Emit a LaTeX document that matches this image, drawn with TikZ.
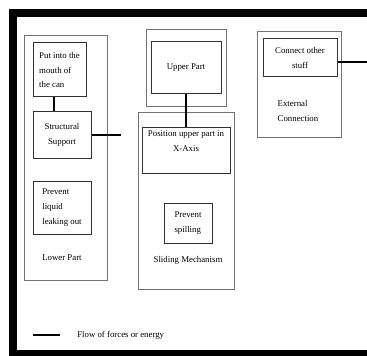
\documentclass[tikz,border=0pt]{standalone}
\usepackage{fontspec}
\setmainfont{Liberation Serif}
\usepackage{tikz}
\usetikzlibrary{calc,positioning}
\tikzset{
  partbox/.style={rectangle, draw=black!55, line width=0.75pt, inner sep=0pt},
  funcbox/.style={rectangle, draw=black!80, line width=0.75pt, inner sep=0pt},
  txt/.style={inner sep=0pt, font={\fontsize{6.6}{11.2}\selectfont}},
  flow/.style={draw, line width=1.5pt},
  frame/.style={draw=black, line width=6pt}
}

\begin{document}
\begin{tikzpicture}[x=0.75pt,y=-0.75pt]
    \clip (0,0) rectangle (367,356);
    \draw[frame] (13,13.5) rectangle (385,354);

    % lower part
    \node[partbox, minimum width=62.25pt, minimum height=183pt] (lower) at (65.5,158) {};
    \node[funcbox, txt, minimum width=39.75pt, minimum height=40.5pt, align=left] (mouth) at (59.5,70) {Put into the\\mouth of\\the can};
    \node[funcbox, txt, minimum width=43.5pt, minimum height=34.5pt, align=center] (strut) at (62,135) {Structural\\Support};
    \node[funcbox, txt, minimum width=43.5pt, minimum height=39.75pt, align=left] (leak) at (62,207.5) {Prevent\\liquid\\leaking out};
    \node[txt] (lowerlbl) at (62,258) {Lower Part};

    % upper part
    \node[partbox, minimum width=60pt, minimum height=57.75pt] (upperout) at (186,68.5) {};
    \node[funcbox, txt, minimum width=52.5pt, minimum height=39pt] (upper) at (186,68) {Upper Part};

    % sliding mechanism
    \node[partbox, minimum width=72pt, minimum height=132pt] (slide) at (186,201) {};
    \node[funcbox, minimum width=66pt, minimum height=33.75pt] (posx) at (186,150.5) {};
    \node[txt, align=center, anchor=north] (posxlbl) at (186,130.5) {Position upper part in\\X-Axis};
    \node[funcbox, txt, minimum width=36pt, minimum height=30pt, align=left] (spill) at (188,223) {Prevent\\spilling};
    \node[txt] (slidelbl) at (188,260) {Sliding Mechanism};

    % external connection
    \node[partbox, minimum width=63pt, minimum height=79.5pt] (ext) at (299,85) {};
    \node[funcbox, txt, minimum width=55.5pt, minimum height=28.5pt, align=center] (conn) at (300,58) {Connect other\\stuff};
    \node[txt, align=left] (extlbl) at (298,111) {External\\ Connection};

    % legend
    \coordinate (legA) at (33,335);
    \coordinate (legB) at (60,335);
    \node[txt, anchor=west] (leglbl) at (77,335) {Flow of forces or energy};

    \coordinate (strutend) at (121,135);
    \coordinate (connend) at (372,62);

    \begin{scope}[every path/.style=flow]
      \path ([xshift=-4.5]mouth.south) -- ([xshift=-4.5]mouth.south |- strut.north);
      \path (strut.east) -- (strutend);
      \path (upper.south) -- (posx.north);
      \path (conn.east |- connend) -- (connend);
      \path (legA) -- (legB);
    \end{scope}
\end{tikzpicture}
\end{document}
